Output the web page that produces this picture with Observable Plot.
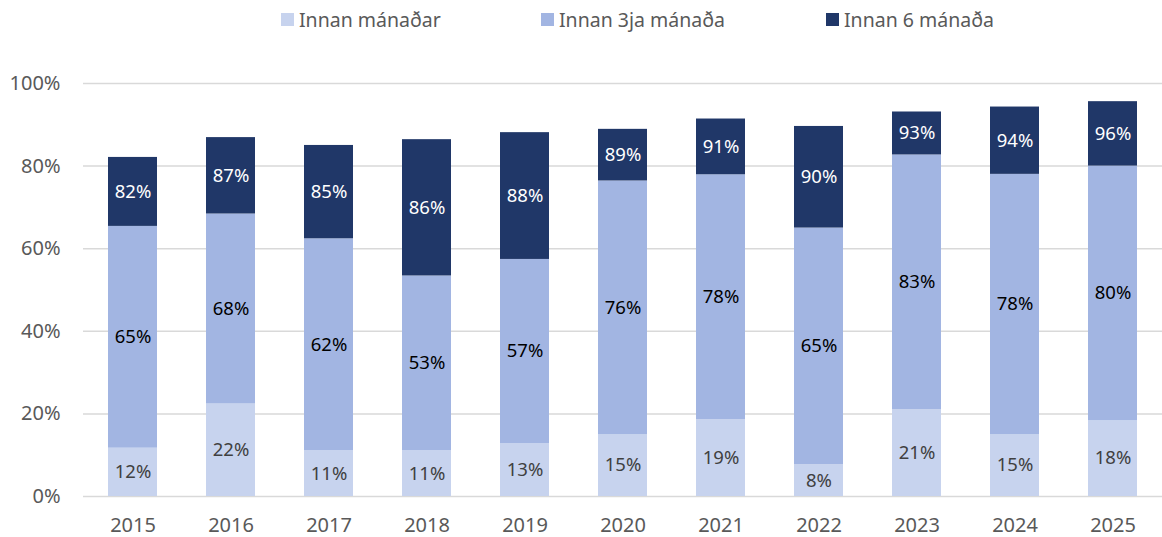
<!DOCTYPE html>
<html>
<head>
<meta charset="utf-8">
<script src="https://cdn.jsdelivr.net/npm/d3@7"></script>
<script src="https://cdn.jsdelivr.net/npm/@observablehq/plot@0.6"></script>
<style>
  html, body { margin: 0; padding: 0; background: #fff; }
  #wrap { width: 1162px; height: 537px; position: relative; overflow: hidden; }
  #legend { position: relative; height: 40px; font-family: "Noto Sans", sans-serif; font-size: 19.5px; color: #595959; }
  .item { position: absolute; top: 6px; display: flex; align-items: center; white-space: nowrap; }
  .sw { width: 13px; height: 13px; margin-right: 5px; display: inline-block; }
</style>
</head>
<body>
<div id="wrap">
  <div id="legend"></div>
  <div id="chart"></div>
</div>
<script>
// Data (percent, cumulative as shown in the chart)
const years = ["2015","2016","2017","2018","2019","2020","2021","2022","2023","2024","2025"];
const innanManadar = [11.7, 22.4, 11.1, 11.1, 12.8, 15.0, 18.6, 7.7, 21.0, 15.0, 18.4];
const innan3ja     = [65.4, 68.4, 62.4, 53.4, 57.4, 76.4, 77.9, 65.0, 82.7, 78.0, 80.0];
const innan6       = [82.1, 86.9, 85.0, 86.4, 88.1, 88.9, 91.4, 89.6, 93.1, 94.3, 95.6];
const seriesNames  = ["Innan mánaðar", "Innan 3ja mánaða", "Innan 6 mánaða"];
const seriesColors = ["#c7d3ee", "#a2b5e2", "#203768"];
const labelColors  = ["#404040", "#000000", "#ffffff"];
const yTicks = [0, 20, 40, 60, 80, 100];

// Build segments table
const cum = [innanManadar, innan3ja, innan6];
const segs = [];
years.forEach((yr, i) => {
  cum.forEach((arr, s) => {
    const lo = s === 0 ? 0 : cum[s - 1][i];
    const hi = arr[i];
    segs.push({year: yr, series: seriesNames[s], y1: lo, y2: hi, mid: (lo + hi) / 2,
               label: Math.round(hi) + "%", lc: labelColors[s]});
  });
});

// Legend
const legendPos = [281, 541, 826];
const leg = document.getElementById("legend");
seriesNames.forEach((n, i) => {
  const d = document.createElement("div");
  d.className = "item";
  d.style.left = legendPos[i] + "px";
  d.innerHTML = `<span class="sw" style="background:${seriesColors[i]}"></span><span>${n}</span>`;
  leg.appendChild(d);
});

const chart = Plot.plot({
  width: 1162,
  height: 497,
  marginTop: 43,
  marginBottom: 41,
  marginLeft: 83,
  marginRight: 0,
  style: {fontFamily: "Noto Sans, sans-serif", background: "#fff"},
  x: {domain: years, paddingInner: 0.5, paddingOuter: 0.25, label: null},
  y: {domain: [0, 100], label: null},
  color: {domain: seriesNames, range: seriesColors},
  marks: [
    Plot.ruleY(yTicks, {stroke: "#d9d9d9", strokeWidth: 1.5}),
    Plot.barY(segs, {x: "year", y1: "y1", y2: "y2", fill: "series"}),
    Plot.text(segs, {x: "year", y: "mid", text: "label", fill: "lc", fontSize: 18.5}),
    Plot.axisY({ticks: yTicks, tickSize: 0, tickPadding: 23, tickFormat: d => d + "%", fontSize: 20, color: "#595959", label: null}),
    Plot.axisX({tickSize: 0, tickPadding: 21, fontSize: 20, color: "#595959", label: null})
  ]
});
document.getElementById("chart").appendChild(chart);
</script>
</body>
</html>
